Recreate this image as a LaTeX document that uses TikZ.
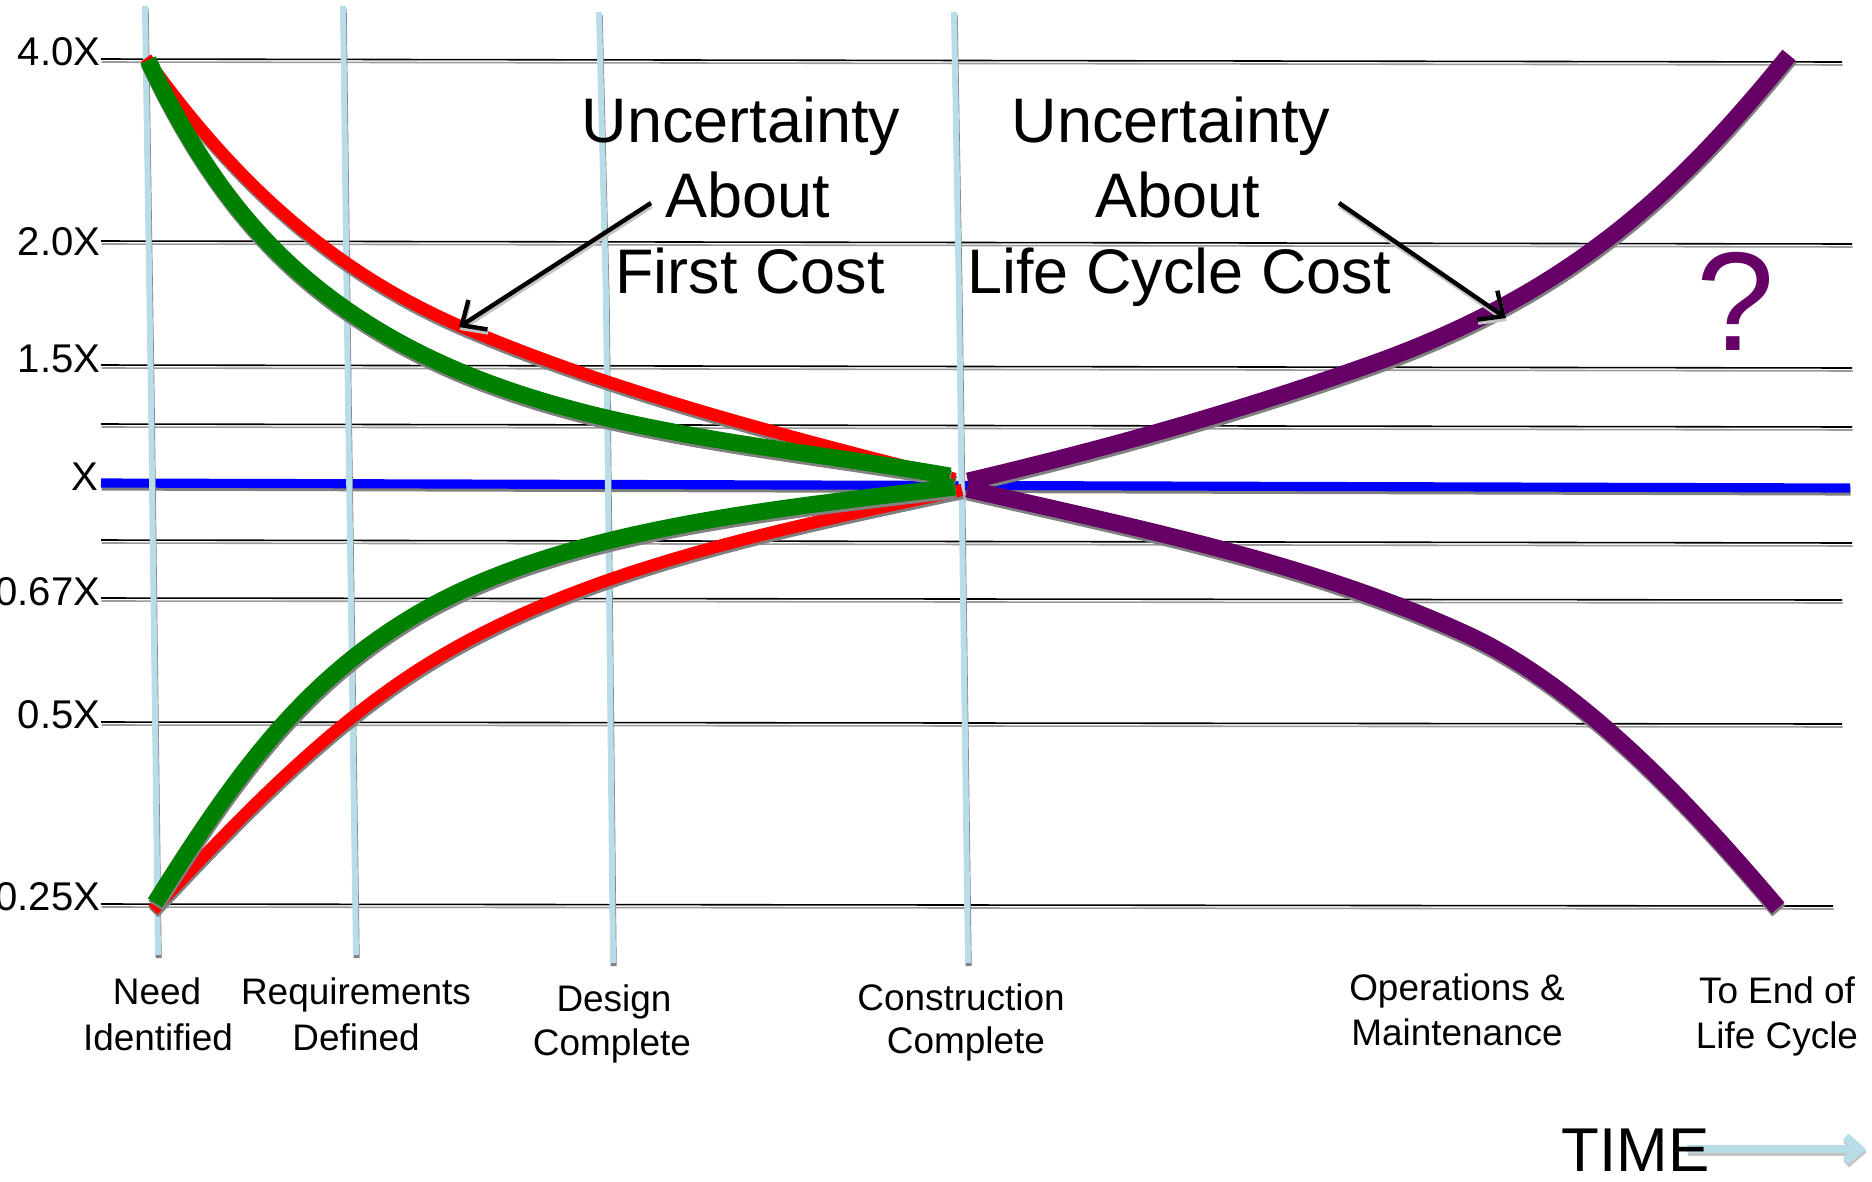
\documentclass[tikz,border=0pt]{standalone}
\usepackage{fontspec}
\setmainfont{Liberation Sans}
\usetikzlibrary{arrows.meta}
\definecolor{vblue}{HTML}{B7DEE8}
\definecolor{shadowcol}{HTML}{808080}
\definecolor{lshadow}{HTML}{C4C4C4}
\definecolor{gshadow}{HTML}{9A9A9A}
\definecolor{cgreen}{HTML}{008000}
\definecolor{cpurple}{HTML}{660066}
\newcommand{\shd}[3][shadowcol]{\draw[#2,draw=#1,transform canvas={xshift=0.2pt,yshift=-0.85pt}] #3;\draw[#2] #3;}
\tikzset{
  ylab/.style={anchor=base east, inner sep=0pt, font=\fontsize{11.4pt}{13pt}\selectfont},
  xlab/.style={anchor=base, inner sep=0pt, font=\fontsize{10.5pt}{12.6pt}\selectfont},
  bigtxt/.style={anchor=base, inner sep=0pt, font=\fontsize{17.9pt}{21.5pt}\selectfont},
  grid/.style={black, line width=0.45pt},
  vline/.style={vblue, line width=1.7pt},
  redc/.style={red, line width=3.5pt},
  greenc/.style={cgreen, line width=4.8pt},
  purc/.style={cpurple, line width=4.8pt},
  pointer/.style={black, line width=1.25pt, -{Straight Barb[length=5.5pt,width=10pt]}},
}
\begin{document}
\begin{tikzpicture}[x=0.01cm, y=-0.01cm]
\useasboundingbox (0,0) rectangle (1872,1181);
% horizontal grid lines
\shd[gshadow]{grid}{(101,59) -- (1842,62)}
\shd[gshadow]{grid}{(101,241) -- (1852,244)}
\shd[gshadow]{grid}{(101,365) -- (1852,368)}
\shd[gshadow]{grid}{(101,424) -- (1852,427)}
\shd[gshadow]{grid}{(101,540) -- (1852,543)}
\shd[gshadow]{grid}{(101,598) -- (1842,600)}
\shd[gshadow]{grid}{(101,722) -- (1842,724)}
\shd[gshadow]{grid}{(101,904) -- (1833,906)}
% baseline X
\shd{blue, line width=2.6pt}{(101,483) -- (1850,488)}
% vertical milestone lines
\shd{vline}{(145,6) -- (151,400) -- (158,955)}
\shd{vline}{(343,6) -- (348,400) -- (356,955)}
\shd{vline}{(599,12) -- (606,300) -- (613,963)}
\shd{vline}{(954,12) -- (959,300) -- (968,963)}
% first cost curves
\shd{redc}{(146,58) .. controls (227,171) and (322,266) .. (460,326) .. controls (616,393) and (790,437) .. (955,479)}
\shd{greenc}{(148,60) .. controls (205,180) and (271,267) .. (383,333) .. controls (551,432) and (758,442) .. (950,476)}
\shd{redc}{(153,910) .. controls (232,826) and (312,741) .. (407,677) .. controls (565,571) and (776,530) .. (962,490)}
\shd{greenc}{(155,903) .. controls (235,775) and (300,686) .. (407,620) .. controls (552,530) and (765,510) .. (955,487)}
% life cycle curves
\shd{purc}{(968,481) .. controls (1104,449) and (1236,412) .. (1366,366) .. controls (1574,293) and (1682,187) .. (1789,55)}
\shd{purc}{(967,489) .. controls (1133,527) and (1307,562) .. (1462,632) .. controls (1581,685) and (1694,809) .. (1778,908)}
% pointers
\coordinate (a1s) at (651,203);
\coordinate (a1e) at (459,327);
\coordinate (a2s) at (1339,203);
\coordinate (a2e) at (1506,318);
\shd[lshadow]{pointer}{(a1s) -- (a1e)}
\shd[lshadow]{pointer}{(a2s) -- (a2e)}
% axis labels
\node[ylab] (l40) at (101,65) {4.0X};
\node[ylab] (l20) at (101,255) {2.0X};
\node[ylab] (l15) at (101,372) {1.5X};
\node[ylab] (l10) at (99,490) {X};
\node[ylab] (l067) at (101,605) {0.67X};
\node[ylab] (l05) at (101,728) {0.5X};
\node[ylab] (l025) at (101,910) {0.25X};
% annotations
\node[bigtxt] (u1a) at (741,142) {Uncertainty};
\node[bigtxt] (u1b) at (748,217) {About};
\node[bigtxt] (u1c) at (750,293) {First Cost};
\node[bigtxt] (u2a) at (1171,142) {Uncertainty};
\node[bigtxt] (u2b) at (1178,217) {About};
\node[bigtxt] (u2c) at (1179,293) {Life Cycle Cost};
\node[anchor=base, inner sep=0pt, text=cpurple, font=\fontsize{40pt}{44pt}\selectfont] (q) at (1736,350) {?};
% milestone labels
\node[xlab] (m1a) at (157,1004) {Need};
\node[xlab] (m1b) at (158,1050) {Identified};
\node[xlab] (m2a) at (356,1004) {Requirements};
\node[xlab] (m2b) at (356,1050) {Defined};
\node[xlab] (m3a) at (614,1011) {Design};
\node[xlab] (m3b) at (612,1055) {Complete};
\node[xlab] (m4a) at (961,1010) {Construction};
\node[xlab] (m4b) at (966,1053) {Complete};
\node[xlab] (m5a) at (1457,1000) {Operations \&};
\node[xlab] (m5b) at (1457,1045) {Maintenance};
\node[xlab] (m6a) at (1777,1003) {To End of};
\node[xlab] (m6b) at (1777,1048) {Life Cycle};
% time arrow
\coordinate (t1) at (1687,1149);
\coordinate (t2) at (1866,1149);
\shd[lshadow]{vblue, line width=2.4pt, -{Straight Barb[length=4pt,width=7pt]}}{(t1) -- (t2)}
\node[anchor=base west, inner sep=0pt, font=\fontsize{17.6pt}{20pt}\selectfont] (time) at (1561,1171) {TIME};
\end{tikzpicture}
\end{document}
